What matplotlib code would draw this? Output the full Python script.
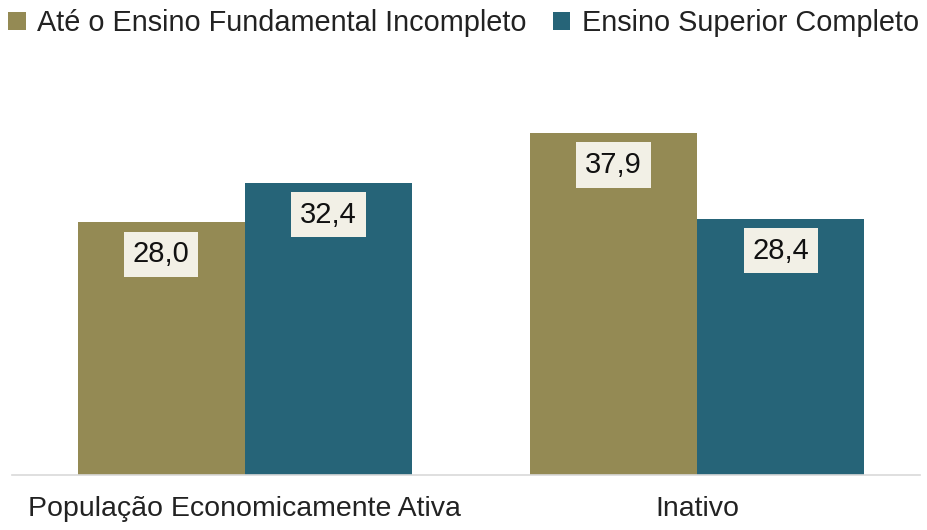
import numpy as np
import matplotlib.pyplot as plt

plt.rcParams['font.family'] = ['Liberation Sans', 'DejaVu Sans']

categories = ["População Economicamente Ativa", "Inativo"]
series_names = ["Até o Ensino Fundamental Incompleto", "Ensino Superior Completo"]
fundamental = [28.0, 37.9]
superior = [32.4, 28.4]

colors = ["#948a54", "#266478"]

fig = plt.figure(figsize=(9.27, 5.30), dpi=100)
ax = fig.add_axes([12 / 927, 1 - 475 / 530, 908 / 927, 361 / 530])

x = np.arange(len(categories))
w = 0.37
bars = []
for i, (vals, name) in enumerate(zip([fundamental, superior], series_names)):
    b = ax.bar(x + (i - 0.5) * w, vals, w, color=colors[i], label=name)
    bars.append(b)
    for xi, v in zip(x + (i - 0.5) * w, vals):
        ax.text(xi, v - 3.55, f"{v:.1f}".replace(".", ","), ha='center', va='center',
                fontsize=21, color='#111111',
                bbox=dict(boxstyle='square,pad=0.3', fc='#f2f0e6', ec='none'))

ax.set_xlim(-0.515, 1.493)
ax.set_ylim(0, 40)
ax.set_yticks([])
ax.set_xticks(x)
ax.set_xticklabels(categories, fontsize=20.5, color='#222222')
ax.tick_params(axis='x', length=0, pad=15)
for s in ['top', 'right', 'left']:
    ax.spines[s].set_visible(False)
ax.spines['bottom'].set_color('#d9d9d9')
ax.spines['bottom'].set_linewidth(1.2)

fig.legend(handles=bars, labels=series_names, loc='center',
           bbox_to_anchor=(0.5, 1 - 23 / 530), ncol=2, frameon=False,
           fontsize=20.8, handlelength=0.6, handleheight=0.6, handletextpad=0.4,
           columnspacing=0.9, labelcolor='#222222')

fig.savefig("out.png", dpi=100)
